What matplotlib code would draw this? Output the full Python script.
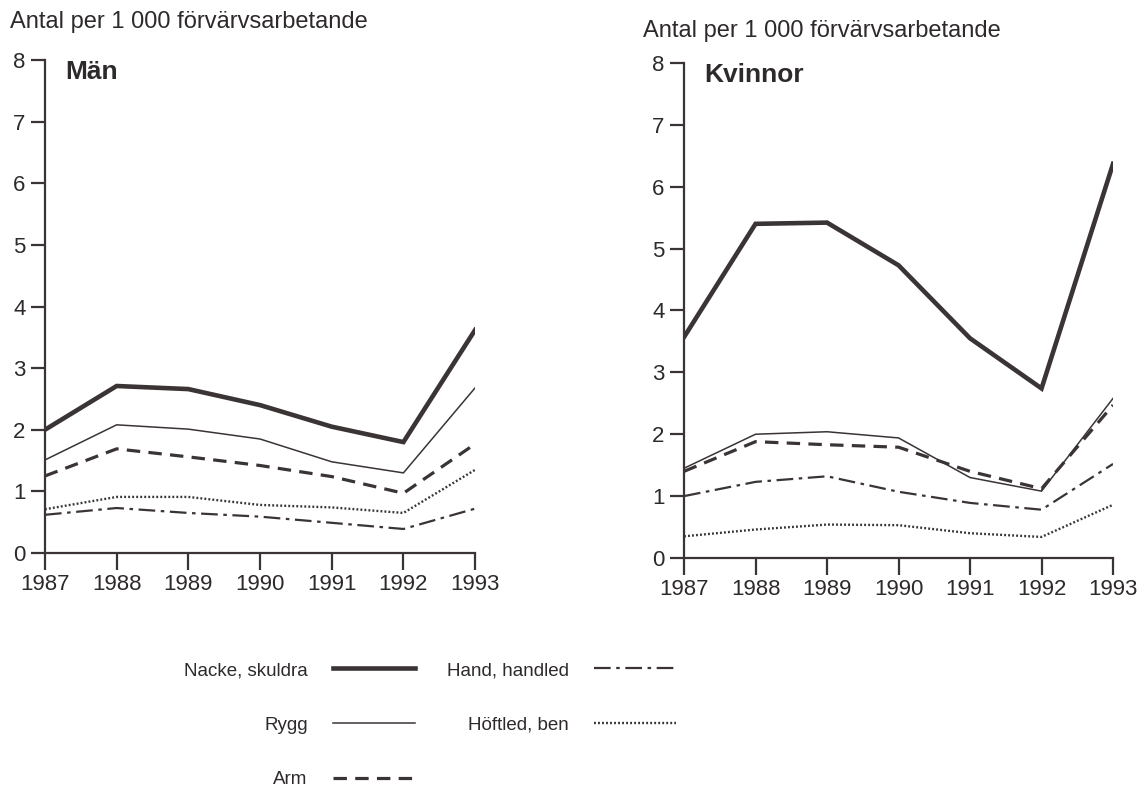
import numpy as np
import matplotlib.pyplot as plt

plt.rcParams['font.family'] = ['Liberation Sans', 'DejaVu Sans']

# data
years = [1987, 1988, 1989, 1990, 1991, 1992, 1993]
labels = ['Nacke, skuldra', 'Rygg', 'Arm', 'Hand, handled', 'Höftled, ben']

man_nacke = [2.00, 2.71, 2.66, 2.40, 2.05, 1.80, 3.62]
man_rygg = [1.51, 2.08, 2.01, 1.85, 1.48, 1.30, 2.68]
man_arm = [1.25, 1.69, 1.56, 1.42, 1.24, 0.97, 1.77]
man_hand = [0.62, 0.73, 0.65, 0.59, 0.49, 0.39, 0.72]
man_hoft = [0.71, 0.91, 0.91, 0.78, 0.74, 0.65, 1.35]

kv_nacke = [3.57, 5.40, 5.42, 4.73, 3.55, 2.74, 6.37]
kv_rygg = [1.45, 2.00, 2.04, 1.94, 1.30, 1.08, 2.58]
kv_arm = [1.40, 1.88, 1.83, 1.79, 1.40, 1.12, 2.47]
kv_hand = [1.00, 1.23, 1.32, 1.07, 0.89, 0.78, 1.52]
kv_hoft = [0.35, 0.46, 0.54, 0.53, 0.40, 0.34, 0.86]

ink = '#3a3435'
txt = '#2e2a2b'

# stil per serie
styles = [
    dict(lw=3.3, ls='-'),
    dict(lw=1.1, ls='-'),
    dict(lw=2.3, ls=(0, (4.2, 2.6))),
    dict(lw=1.6, ls=(0, (7.5, 2.5, 1.6, 2.5))),
    dict(lw=1.7, ls=(0, (0.8, 0.9))),
]

fig = plt.figure(figsize=(11.41, 8.01), dpi=100)
fig.patch.set_facecolor('white')

ax1 = fig.add_axes([0.0394, 0.3096, 0.377, 0.6155])
ax2 = fig.add_axes([0.5995, 0.3034, 0.376, 0.618])

def rita(ax, serier, titel):
    handles = []
    for vals, st, lab in zip(serier, styles, labels):
        h, = ax.plot(years, vals, color=ink, solid_joinstyle='miter',
                     dash_capstyle='butt', label=lab, **st)
        handles.append(h)
    ax.set_xlim(1987, 1993)
    ax.set_ylim(0, 8)
    ax.set_xticks(years)
    ax.set_yticks(range(0, 9))
    for s in ['top', 'right']:
        ax.spines[s].set_visible(False)
    for s in ['left', 'bottom']:
        ax.spines[s].set_linewidth(1.6)
        ax.spines[s].set_color(ink)
    ax.tick_params(axis='y', direction='out', length=10, width=1.6,
                   color=ink, labelsize=16, labelcolor=txt, pad=4)
    ax.tick_params(axis='x', direction='out', length=12, width=1.6,
                   color=ink, labelsize=16, labelcolor=txt, pad=3)
    ax.patch.set_alpha(0)
    ax.text(0.047, 0.976, titel, transform=ax.transAxes, fontsize=19,
            fontweight='bold', color=txt, va='center', ha='left')
    return handles

h = rita(ax1, [man_nacke, man_rygg, man_arm, man_hand, man_hoft], 'Män')
rita(ax2, [kv_nacke, kv_rygg, kv_arm, kv_hand, kv_hoft], 'Kvinnor')

fig.text(10 / 1141, 1 - 22 / 801, 'Antal per 1 000 förvärvsarbetande',
         fontsize=17, color=txt, va='center', ha='left')
fig.text(643 / 1141, 1 - 31 / 801, 'Antal per 1 000 förvärvsarbetande',
         fontsize=17, color=txt, va='center', ha='left')

leg = fig.legend(handles=h, labels=labels, ncol=2, markerfirst=False,
                 frameon=False, fontsize=13.5, handlelength=4.4,
                 handletextpad=1.33, columnspacing=1.7, labelspacing=2.0,
                 loc='upper left', bbox_to_anchor=(167 / 1141, 1 - 645 / 801))
for t in leg.get_texts():
    t.set_color(txt)

fig.savefig('out.png', dpi=100)
